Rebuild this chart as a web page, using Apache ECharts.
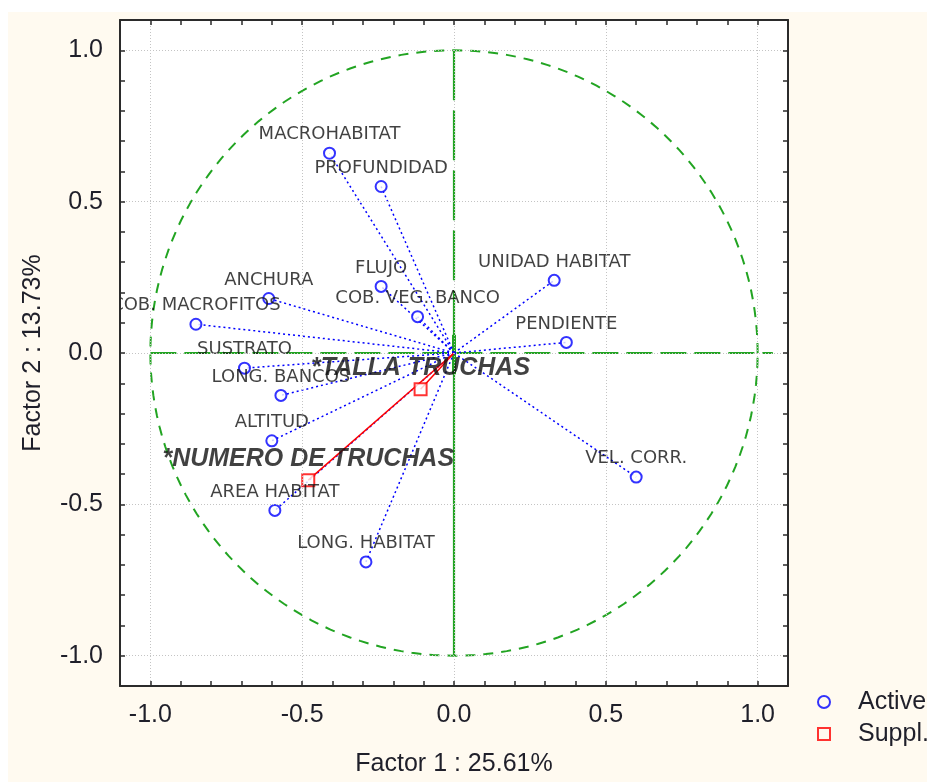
<!DOCTYPE html>
<html>
<head>
<meta charset="utf-8">
<title>Factor 1 x Factor 2</title>
<script src="https://cdn.jsdelivr.net/npm/echarts@6/dist/echarts.min.js"></script>
<style>
  html, body { margin: 0; padding: 0; background: #ffffff; }
  #chart { width: 927px; height: 782px; }
</style>
</head>
<body>
<div id="chart"></div>
<script>
// Active variables: loadings on factor 1 and factor 2
const activeNames = ['MACROHABITAT', 'PROFUNDIDAD', 'UNIDAD HABITAT', 'FLUJO', 'ANCHURA',
  'COB. VEG. BANCO', 'COB. MACROFITOS', 'PENDIENTE', 'SUSTRATO', 'LONG. BANCOS',
  'ALTITUD', 'VEL. CORR.', 'AREA HABITAT', 'LONG. HABITAT'];
const activeF1 = [-0.41, -0.24, 0.33, -0.24, -0.61, -0.12, -0.85, 0.37, -0.69, -0.57, -0.60, 0.60, -0.59, -0.29];
const activeF2 = [0.66, 0.55, 0.24, 0.22, 0.18, 0.12, 0.095, 0.035, -0.05, -0.14, -0.29, -0.41, -0.52, -0.69];

// Supplementary variables
const supplNames = ['*NUMERO DE TRUCHAS', '*TALLA TRUCHAS'];
const supplF1 = [-0.48, -0.11];
const supplF2 = [-0.42, -0.12];

// Axis ticks and titles
const tickLabels = [-1.0, -0.5, 0.0, 0.5, 1.0];
const axisMin = -1.1, axisMax = 1.1, minorStep = 0.1;
const xTitle = 'Factor 1 : 25.61%';
const yTitle = 'Factor 2 : 13.73%';
const legendNames = ['Active', 'Suppl.'];

const CREAM = '#fffaf0';
const GREEN = '#22a422';
const FRAME = '#2b2b2b';
const INK = '#1f1f2a';
const TICK_FONT = 'Liberation Sans, Arial, sans-serif';
const LABEL_FONT = 'DejaVu Sans, sans-serif';

function tickFormatter(v) {
  const hit = tickLabels.some(t => Math.abs(t - v) < 1e-6);
  return hit ? v.toFixed(1) : '';
}
// only every fifth 0.1-step line (the 0.5 multiples) is drawn
const gridColors = ['rgba(0,0,0,0)', '#c4c4c4', 'rgba(0,0,0,0)', 'rgba(0,0,0,0)', 'rgba(0,0,0,0)'];

function makeAxis(kind, position, main) {
  const ax = {
    type: 'value', position: position, min: axisMin, max: axisMax, interval: minorStep,
    z: 10,
    axisLine: { show: true, onZero: false, lineStyle: { color: FRAME, width: 2 } },
    axisTick: { show: true, inside: true, length: 5, lineStyle: { color: FRAME, width: 1.5 } },
    axisLabel: { show: false },
    splitLine: { show: false }
  };
  if (main) {
    ax.axisLabel = {
      show: true, formatter: tickFormatter, fontSize: 25, fontFamily: TICK_FONT,
      color: INK, margin: 17
    };
    ax.splitLine = { show: true, lineStyle: { color: gridColors, width: 1, type: [1, 2] } };
    ax.name = kind === 'x' ? xTitle : yTitle;
    ax.nameLocation = 'middle';
    ax.nameGap = kind === 'x' ? 66 : 74;
    ax.nameTextStyle = { fontSize: 25, fontFamily: TICK_FONT, color: INK };
  }
  return ax;
}

const activeData = activeF1.map((x, i) => ({ name: activeNames[i], value: [x, activeF2[i]] }));
const supplData = supplF1.map((x, i) => ({ name: supplNames[i], value: [x, supplF2[i]] }));

// vectors from the origin to each variable
function vectorRenderer(color, dash) {
  return function (params, api) {
    const p0 = api.coord([0, 0]);
    const p1 = api.coord([api.value(0), api.value(1)]);
    return {
      type: 'line',
      shape: { x1: p0[0], y1: p0[1], x2: p1[0], y2: p1[1] },
      style: { stroke: color, lineWidth: 1.5, lineDash: dash }
    };
  };
}

// correlation circle of radius 1
const CIRCLE_RADIUS = 1;
function circleRenderer(params, api) {
  const pts = [];
  for (let a = 0; a <= 360; a += 2) {
    const t = a * Math.PI / 180;
    pts.push(api.coord([CIRCLE_RADIUS * Math.cos(t), CIRCLE_RADIUS * Math.sin(t)]));
  }
  return {
    type: 'polyline',
    shape: { points: pts },
    style: { stroke: GREEN, lineWidth: 2, fill: null, lineDash: [10, 8] }
  };
}

// zero lines through the origin: [x1, y1, x2, y2, width, dash style]
const crossSegments = [
  [-1.0, 0, 1.05, 0, 2.2, 'long'],
  [0, 1.0, 0, 0, 2.2, 'split'],
  [0, 0, 0, -1.0, 2.2, 'solid'],
  [0, 0.06, 0, -0.07, 4, 'solid']
];
const dashStyles = { long: [26, 8], split: [50, 10], solid: null };
function crossRenderer(params, api) {
  const seg = crossSegments[params.dataIndex];
  const a = api.coord([api.value(0), api.value(1)]);
  const b = api.coord([api.value(2), api.value(3)]);
  return {
    type: 'line',
    shape: { x1: a[0], y1: a[1], x2: b[0], y2: b[1] },
    style: { stroke: GREEN, lineWidth: seg[4], lineDash: dashStyles[seg[5]] }
  };
}

const chart = echarts.init(document.getElementById('chart'), null, { renderer: 'canvas' });
chart.setOption({
  backgroundColor: '#ffffff',
  animation: false,
  graphic: [
    { type: 'rect', shape: { x: 8, y: 12, width: 919, height: 770 }, style: { fill: CREAM }, z: -10, silent: true },
    // keeps labels that spill past the left frame from showing outside the plot
    { type: 'rect', shape: { x: 8, y: 19, width: 111, height: 671 }, style: { fill: CREAM }, z: 5, silent: true }
  ],
  grid: {
    left: 120, top: 20, right: 139, bottom: 94,
    show: true, backgroundColor: '#ffffff', borderWidth: 0
  },
  legend: {
    orient: 'vertical', left: 817, top: 687, padding: 0,
    itemWidth: 58, itemHeight: 12, itemGap: 2, symbolKeepAspect: true,
    textStyle: { fontSize: 25, fontFamily: TICK_FONT, color: INK, lineHeight: 30 },
    data: [
      { name: legendNames[0], icon: 'circle', itemStyle: { color: 'rgba(0,0,0,0)', borderColor: '#0000ff', borderWidth: 2 } },
      { name: legendNames[1], icon: 'path://M0,0H10V10H0Z', itemStyle: { color: 'rgba(0,0,0,0)', borderColor: '#ff0000', borderWidth: 2 } }
    ]
  },
  xAxis: [makeAxis('x', 'bottom', true), makeAxis('x', 'top', false)],
  yAxis: [makeAxis('y', 'left', true), makeAxis('y', 'right', false)],
  series: [
    {
      type: 'custom', name: 'circle', clip: true, silent: true, z: 1,
      data: [[0, 0]], renderItem: circleRenderer
    },
    {
      type: 'custom', name: 'zero-lines', clip: true, silent: true, z: 1,
      data: crossSegments.map(s => s.slice(0, 4)), renderItem: crossRenderer
    },
    {
      type: 'custom', name: 'active-vectors', clip: true, silent: true, z: 2,
      data: activeData.map(d => d.value), renderItem: vectorRenderer('#0000ff', [2, 3])
    },
    {
      type: 'custom', name: 'suppl-vectors', clip: true, silent: true, z: 2,
      data: supplData.map(d => d.value), renderItem: vectorRenderer('#ff0000', null)
    },
    {
      type: 'scatter', name: legendNames[0], data: activeData, z: 3,
      symbol: 'emptyCircle', symbolSize: 11,
      itemStyle: { color: '#0000ff', borderColor: '#0000ff', borderWidth: 1.5 },
      label: {
        show: true, position: 'top', distance: 3, formatter: '{b}',
        fontSize: 18, fontFamily: LABEL_FONT, color: '#111111'
      }
    },
    {
      type: 'scatter', name: legendNames[1], data: supplData, z: 3,
      symbol: 'emptyRect', symbolSize: 12,
      itemStyle: { color: '#ff0000', borderColor: '#ff0000', borderWidth: 1.5 },
      label: {
        show: true, position: 'top', distance: 2, formatter: '{b}',
        fontSize: 25, fontWeight: 'bold', fontStyle: 'italic', fontFamily: TICK_FONT, color: '#111111'
      }
    }
  ]
});
</script>
</body>
</html>
